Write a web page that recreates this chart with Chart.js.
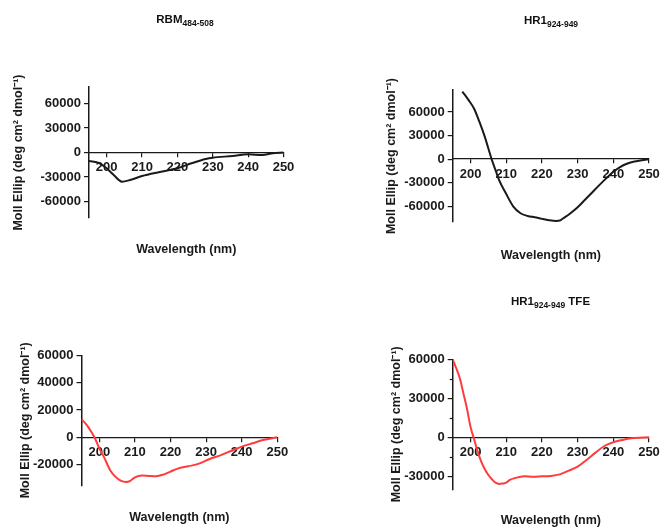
<!DOCTYPE html>
<html>
<head>
<meta charset="utf-8">
<script src="https://cdn.jsdelivr.net/npm/chart.js@4.4.1/dist/chart.umd.min.js"></script>
<style>
  html, body { margin: 0; padding: 0; background: #fff; width: 660px; height: 527px; overflow: hidden; }
  #wrap { position: relative; width: 660px; height: 527px; }
  canvas { position: absolute; left: 0; top: 0; }
  .ptitle { position: absolute; width: 200px; text-align: center; font: bold 11.5px "Liberation Sans", Arial, sans-serif; line-height: 14px; color: #111; }
  .ptitle sub { font-size: 8.5px; vertical-align: -3px; line-height: 0; }
</style>
</head>
<body>
<div id="wrap">
  <canvas id="c1" width="700" height="560"></canvas>
  <canvas id="c2" width="700" height="560"></canvas>
  <canvas id="c3" width="700" height="560"></canvas>
  <canvas id="c4" width="700" height="560"></canvas>
  <div class="ptitle" style="left:85px; top:12px;">RBM<sub>484-508</sub></div>
  <div class="ptitle" style="left:451px; top:12.5px;">HR1<sub>924-949</sub></div>
  <div class="ptitle" style="left:450.5px; top:294.3px;">HR1<sub>924-949</sub> TFE</div>
</div>
<script>
// CD spectra, values
const xTicks = [200, 210, 220, 230, 240, 250];

const rbmWavelength = [195, 198, 200, 202, 204.3, 206.6, 210, 215, 220, 224, 228, 230, 235.6, 240, 244, 247, 250];
const rbmEllip = [-10400, -13200, -19300, -27500, -35600, -33600, -28700, -23800, -19300, -13200, -7900, -6300, -4300, -2200, -3000, -1000, 0];
const rbmTicks = [-60000, -30000, 0, 30000, 60000];

const hr1Wavelength = [197.7, 199.5, 201, 202.5, 204, 205, 206, 207, 208, 210, 212, 214, 216, 218, 220, 222, 224, 225, 226, 228, 230, 232, 234, 236, 238, 240, 242, 244, 246, 248, 250];
const hr1Ellip = [86000, 74800, 64200, 47300, 28300, 13500, -1300, -14000, -26600, -44400, -60400, -68900, -72300, -74000, -76000, -77700, -78600, -78200, -75200, -68900, -61300, -52000, -42700, -33400, -24500, -16100, -9700, -5500, -3000, -1300, 0];
const hr1Ticks = [-60000, -30000, 0, 30000, 60000];

const rbmBWavelength = [195, 196.5, 198, 199, 200, 201.5, 203, 204.5, 206, 207.5, 208.5, 210, 212, 214, 216, 218, 220, 222, 225, 228, 231, 234, 237, 240, 243, 246, 250];
const rbmBEllip = [13200, 9000, 2900, -2000, -8000, -15400, -23900, -28800, -31700, -32700, -32200, -29300, -28000, -28300, -28500, -27300, -25100, -22900, -21200, -19300, -15900, -13200, -10000, -6800, -4400, -2000, 0];
const rbmBTicks = [-20000, 0, 20000, 40000, 60000];

const tfeWavelength = [195, 196, 197, 198, 199, 200, 201, 202, 203, 204, 205, 206, 207, 208, 209, 210, 211, 212.5, 215, 217.5, 220, 222.5, 225, 227.5, 230, 232.5, 235, 237.5, 240, 242.5, 245, 250];
const tfeEllip = [60000, 53100, 45400, 33800, 22000, 8000, -1500, -11000, -18700, -24600, -29000, -32300, -34900, -35900, -35600, -34900, -32800, -31300, -30000, -30300, -30000, -29700, -28500, -25600, -22600, -17400, -11800, -6700, -3800, -2100, -800, 0];
const tfeTicks = [-30000, 0, 30000, 60000];
const tfeMinorTicks = [-15000, 15000, 45000];

const FONT = '"Liberation Sans", Arial, sans-serif';
const INK = '#1a1a1a';
const RED = '#ff3b3b';
const yTitle = 'Moll Ellip (deg cm\u00B2 dmol\u207B\u00B9)';

Chart.defaults.font.family = FONT;
Chart.defaults.font.weight = 'bold';
Chart.defaults.color = INK;

const minorTicks = {
    id: 'minorTicks',
    afterDraw(chart, args, opts) {
        if (!opts.values) return;
        const y = chart.scales.y;
        const ctx = chart.ctx;
        const left = chart.chartArea.left;
        ctx.save();
        ctx.strokeStyle = INK;
        ctx.lineWidth = 1.2;
        opts.values.forEach(v => {
            const py = Math.round(y.getPixelForValue(v)) + 0.5;
            ctx.beginPath();
            ctx.moveTo(left - 3, py);
            ctx.lineTo(left, py);
            ctx.stroke();
        });
        ctx.restore();
    }
};

const plain = v => String(v);

// p: {id, wl, vals, color, yMin, yMax, yTicks, area:{l,r,t,b}, yTitleX, xTitleY, minor}
function makePanel(p) {
    const lh = 15; // 12.5px * 1.2
    const padLeft = p.yTitleX - lh / 2;
    const yWidth = p.area.l - padLeft;
    const xPadTop = p.xTitleY - p.area.b - lh / 2;
    const padBottom = 560 - p.area.b - (lh + xPadTop);
    const points = p.wl.map((w, i) => ({ x: w, y: p.vals[i] }));

    new Chart(document.getElementById(p.id), {
        type: 'line',
        data: {
            datasets: [{
                data: points,
                borderColor: p.color,
                borderWidth: 2,
                pointRadius: 0,
                cubicInterpolationMode: 'monotone',
                fill: false
            }]
        },
        options: {
            responsive: false,
            animation: false,
            events: [],
            layout: {
                padding: { left: padLeft, top: p.area.t, right: 700 - p.area.r, bottom: padBottom }
            },
            plugins: {
                legend: { display: false },
                tooltip: { enabled: false },
                minorTicks: { values: p.minor || null }
            },
            scales: {
                x: {
                    type: 'linear',
                    position: { y: 0 },
                    min: 195,
                    max: 250,
                    afterBuildTicks: s => { s.ticks = xTicks.map(v => ({ value: v })); },
                    ticks: { font: { size: 13, weight: 'bold' }, padding: 3, color: INK, maxRotation: 0, callback: plain },
                    grid: { display: true, drawOnChartArea: false, drawTicks: true, tickLength: 4, color: INK, lineWidth: 1.2 },
                    border: { display: true, color: INK, width: 1.3 }
                },
                x2: {
                    type: 'linear',
                    position: 'bottom',
                    display: true,
                    ticks: { display: false },
                    grid: { display: false, drawTicks: false },
                    border: { display: false },
                    title: {
                        display: true,
                        text: 'Wavelength (nm)',
                        color: INK,
                        font: { size: 12.5, weight: 'bold' },
                        padding: { top: xPadTop, bottom: 0 }
                    }
                },
                y: {
                    type: 'linear',
                    position: 'left',
                    min: p.yMin,
                    max: p.yMax,
                    afterBuildTicks: s => { s.ticks = p.yTicks.map(v => ({ value: v })); },
                    afterFit: s => { s.width = yWidth; },
                    ticks: { font: { size: 13, weight: 'bold' }, padding: 3, color: INK, callback: plain },
                    grid: { display: true, drawOnChartArea: false, drawTicks: true, tickLength: 5, color: INK, lineWidth: 1.2 },
                    border: { display: true, color: INK, width: 1.5 },
                    title: {
                        display: true,
                        text: yTitle,
                        color: INK,
                        font: { size: 12.5, weight: 'bold' },
                        padding: 0
                    }
                }
            }
        },
        plugins: [minorTicks]
    });
}

makePanel({
    id: 'c1', wl: rbmWavelength, vals: rbmEllip, color: INK,
    yMin: -80000, yMax: 80000, yTicks: rbmTicks,
    area: { l: 89, r: 283.5, t: 87, b: 218 }, yTitleX: 19, xTitleY: 250
});
makePanel({
    id: 'c2', wl: hr1Wavelength, vals: hr1Ellip, color: INK,
    yMin: -80000, yMax: 88000, yTicks: hr1Ticks,
    area: { l: 452.7, r: 649, t: 90, b: 222 }, yTitleX: 392, xTitleY: 256
});
makePanel({
    id: 'c3', wl: rbmBWavelength, vals: rbmBEllip, color: RED,
    yMin: -35000, yMax: 60000, yTicks: rbmBTicks,
    area: { l: 81.5, r: 277.3, t: 355.4, b: 485.1 }, yTitleX: 25.8, xTitleY: 518
});
makePanel({
    id: 'c4', wl: tfeWavelength, vals: tfeEllip, color: RED,
    yMin: -40000, yMax: 60000, yTicks: tfeTicks, minor: tfeMinorTicks,
    area: { l: 452.7, r: 649, t: 359.3, b: 489.3 }, yTitleX: 397, xTitleY: 521
});
</script>
</body>
</html>
